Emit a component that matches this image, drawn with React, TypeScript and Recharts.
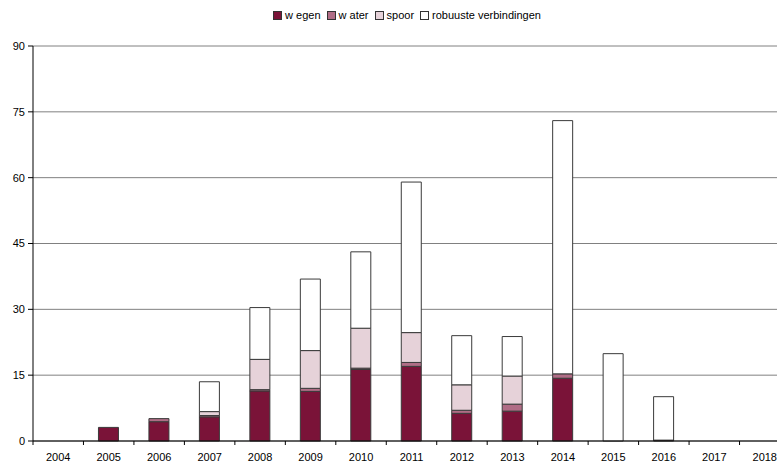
import { BarChart, Bar, XAxis, YAxis, CartesianGrid, Legend } from "recharts";

const years = ["2004", "2005", "2006", "2007", "2008", "2009", "2010", "2011", "2012", "2013", "2014", "2015", "2016", "2017", "2018"];
const wegen = [0, 3.1, 4.4, 5.5, 11.4, 11.3, 16.3, 17.0, 6.3, 6.8, 14.3, 0, 0.2, 0, 0];
const water = [0, 0, 0.7, 0.3, 0.3, 0.7, 0.3, 0.9, 0.7, 1.6, 1.0, 0, 0, 0, 0];
const spoor = [0, 0, 0, 0.9, 6.9, 8.6, 9.1, 6.8, 5.8, 6.4, 0, 0, 0, 0, 0];
const robuust = [0, 0, 0, 6.8, 11.8, 16.3, 17.4, 34.3, 11.2, 9.0, 57.7, 19.9, 9.9, 0, 0];
const yTicks = [0, 15, 30, 45, 60, 75, 90];

const series = [
  { key: "wegen", label: "w egen", color: "#7a1338" },
  { key: "water", label: "w ater", color: "#b06d86" },
  { key: "spoor", label: "spoor", color: "#e6d2d9" },
  { key: "robuust", label: "robuuste verbindingen", color: "#ffffff" },
];

const data = years.map((year, i) => ({
  year,
  wegen: wegen[i],
  water: water[i],
  spoor: spoor[i],
  robuust: robuust[i],
}));

const FONT = "'Liberation Sans', Arial, sans-serif";
const CHART_W = 800;
const CHART_H = 463;
const M_RIGHT = 10;
const Y_W = 33;
const X_H = 22;
const AXIS_Y = CHART_H - X_H;
const BAND = (CHART_W - M_RIGHT - Y_W) / years.length;

function YearTick(props: any) {
  const { x, payload } = props;
  return (
    <g>
      <line x1={x - BAND / 2} x2={x - BAND / 2} y1={AXIS_Y} y2={AXIS_Y + 4} stroke="#000" />
      <text x={x} y={AXIS_Y + 12} dy="0.71em" textAnchor="middle" fontSize={11} fill="#000" fontFamily={FONT}>
        {payload.value}
      </text>
    </g>
  );
}

function LegendBox() {
  return (
    <div style={{ display: "flex", justifyContent: "center", fontSize: 11, fontFamily: FONT, color: "#000" }}>
      {series.map((s) => (
        <span key={s.key} style={{ display: "flex", alignItems: "center", marginRight: 6 }}>
          <span
            style={{
              width: 7,
              height: 7,
              background: s.color,
              border: "1px solid #333",
              marginRight: 3,
              display: "inline-block",
            }}
          />
          {s.label}
        </span>
      ))}
    </div>
  );
}

export default function App() {
  return (
    <div style={{ position: "absolute", left: 0, top: 0, width: 777, height: 463, overflow: "hidden", background: "#fff" }}>
      <BarChart
        width={CHART_W}
        height={CHART_H}
        data={data}
        margin={{ top: 46, right: M_RIGHT, bottom: 0, left: 0 }}
        barSize={20}
      >
        <CartesianGrid vertical={false} stroke="#808080" />
        <XAxis
          dataKey="year"
          height={X_H}
          tickLine={false}
          tickSize={0}
          tickMargin={0}
          tick={<YearTick />}
          axisLine={{ stroke: "#000" }}
          interval={0}
        />
        <YAxis
          width={Y_W}
          domain={[0, 90]}
          ticks={yTicks}
          tickSize={5}
          tickMargin={3}
          axisLine={{ stroke: "#000" }}
          tickLine={{ stroke: "#000" }}
          tick={{ fill: "#000", fontSize: 11, fontFamily: FONT }}
          interval={0}
        />
        <Legend
          verticalAlign="middle"
          content={<LegendBox />}
          wrapperStyle={{ top: 9, left: 0, width: 820 }}
        />
        {series.map((s) => (
          <Bar
            key={s.key}
            dataKey={s.key}
            name={s.label}
            stackId="a"
            fill={s.color}
            stroke="#3a3a3a"
            strokeWidth={1}
            isAnimationActive={false}
          />
        ))}
      </BarChart>
    </div>
  );
}
